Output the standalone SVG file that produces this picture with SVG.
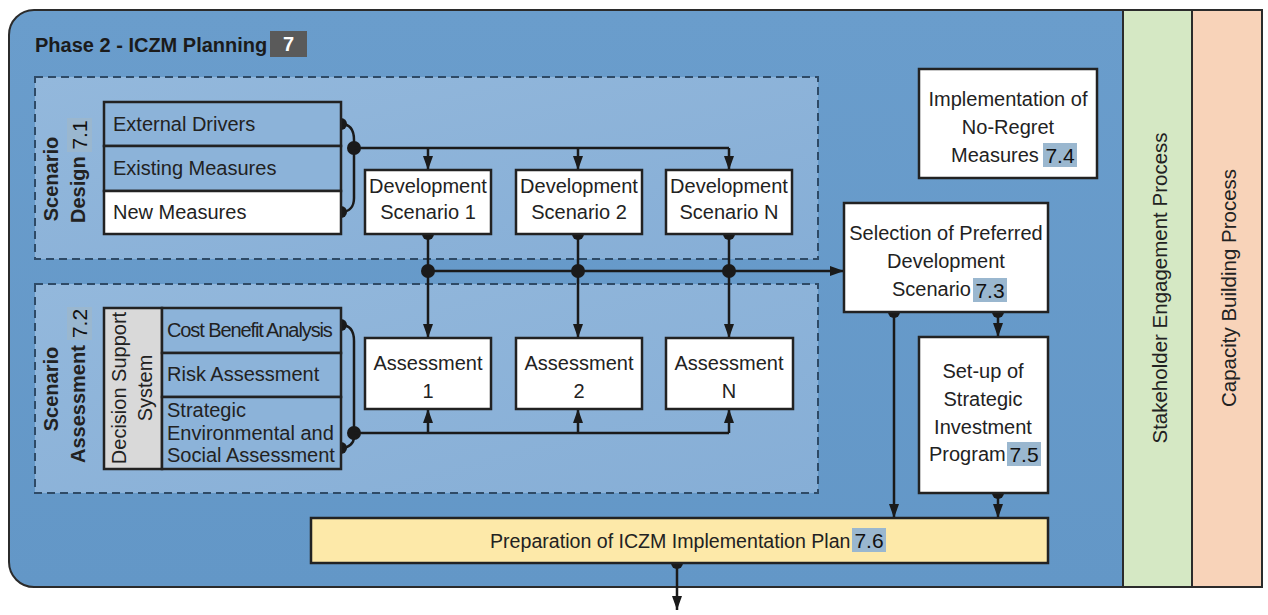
<svg xmlns="http://www.w3.org/2000/svg" width="1268" height="615" viewBox="0 0 1268 615">
  <defs>
    <linearGradient id="phaseFill" x1="0" y1="0" x2="0" y2="1">
      <stop offset="0" stop-color="#6a9dcc"/>
      <stop offset="1" stop-color="#6397c7"/>
    </linearGradient>
    <linearGradient id="zoneFill" x1="0" y1="0" x2="1" y2="1">
      <stop offset="0" stop-color="#93b8dc"/>
      <stop offset="1" stop-color="#86aed6"/>
    </linearGradient>
    <marker id="arrow" viewBox="0 0 14 10" refX="14" refY="5" markerWidth="14" markerHeight="10" markerUnits="userSpaceOnUse" orient="auto">
      <path d="M0,0 L14,5 L0,10 Z" fill="#1a1a1a"/>
    </marker>
    <style>
      .box { fill: #ffffff; stroke: #222222; stroke-width: 2.5; }
      .row { fill: #8cb3d9; stroke: #222222; stroke-width: 2.5; }
      .dss { fill: #d9d9d9; stroke: #222222; stroke-width: 2.5; }
      .zone { fill: url(#zoneFill); stroke: #2e4a66; stroke-width: 2; stroke-dasharray: 8 5; }
      .t { font-family: "Liberation Sans", Arial, sans-serif; font-size: 20px; fill: #222222; }
      .c { text-anchor: middle; }
      .b { font-weight: bold; font-size: 20px; }
      .tag { fill: #9ab7cf; }
      .num { font-family: "Liberation Sans", Arial, sans-serif; font-size: 21px; fill: #111111; text-anchor: middle; }
      .conn { stroke: #1a1a1a; stroke-width: 2.5; fill: none; }
      .dot { fill: #1a1a1a; }
    </style>
  </defs>

  <!-- phase frame and side process bands -->
  <g id="frame">
    <path d="M34,10 H1262 V587 H34 A25,25 0 0 1 9,562 V35 A25,25 0 0 1 34,10 Z" fill="url(#phaseFill)" stroke="#2b2b2b" stroke-width="2"/>
    <rect x="1123" y="10" width="69" height="577" fill="#d5e8c4" stroke="#2b2b2b" stroke-width="2"/>
    <rect x="1192" y="10" width="70" height="577" fill="#f8d3b9" stroke="#2b2b2b" stroke-width="2"/>
    <text class="t" x="35" y="52" style="font-weight:bold;fill:#1b1b1b">Phase 2 - ICZM Planning</text>
    <rect x="270" y="31" width="37" height="26" fill="#5a5a5a"/>
    <text class="t c" x="288.5" y="51" style="font-weight:bold;fill:#ffffff">7</text>
    <text class="t c" transform="translate(1167,288) rotate(-90)" style="font-size:20.5px">Stakeholder Engagement Process</text>
    <text class="t c" transform="translate(1236,288) rotate(-90)" style="font-size:20.5px">Capacity Building Process</text>
  </g>

  <!-- dashed zones -->
  <g id="zone-design">
    <rect class="zone" x="35" y="77" width="783" height="182"/>
    <text class="t c b" transform="translate(58,179) rotate(-90)">Scenario</text>
    <text class="t b" transform="translate(85,223) rotate(-90)">Design</text>
    <rect class="tag" x="67" y="118" width="25" height="34"/>
    <text class="num" transform="translate(87,135) rotate(-90)">7.1</text>
  </g>
  <g id="zone-assessment">
    <rect class="zone" x="35" y="284" width="783" height="209"/>
    <text class="t c b" transform="translate(58,389) rotate(-90)">Scenario</text>
    <text class="t b" transform="translate(85,463) rotate(-90)">Assessment</text>
    <rect class="tag" x="67" y="307" width="25" height="33"/>
    <text class="num" transform="translate(87,323.5) rotate(-90)">7.2</text>
  </g>

  <!-- connectors -->
  <g id="connectors">
    <!-- scenario design inputs to development scenarios -->
    <circle class="dot" cx="341" cy="124" r="6"/>
    <circle class="dot" cx="341" cy="212" r="6"/>
    <path class="conn" d="M341,124 C350,124 354,130 354,140 L354,198 C354,206 350,212 341,212"/>
    <circle class="dot" cx="354" cy="148" r="7"/>
    <path class="conn" d="M354,148 H729"/>
    <path class="conn" d="M428,148 V170" marker-end="url(#arrow)"/>
    <path class="conn" d="M578,148 V170" marker-end="url(#arrow)"/>
    <path class="conn" d="M729,148 V170" marker-end="url(#arrow)"/>

    <!-- development scenarios to assessments and selection -->
    <circle class="dot" cx="428" cy="234" r="6"/>
    <circle class="dot" cx="578" cy="234" r="6"/>
    <circle class="dot" cx="729" cy="234" r="6"/>
    <path class="conn" d="M428,234 V338" marker-end="url(#arrow)"/>
    <path class="conn" d="M578,234 V338" marker-end="url(#arrow)"/>
    <path class="conn" d="M729,234 V338" marker-end="url(#arrow)"/>
    <path class="conn" d="M428,271 H844" marker-end="url(#arrow)"/>
    <circle class="dot" cx="428" cy="271" r="7"/>
    <circle class="dot" cx="578" cy="271" r="7"/>
    <circle class="dot" cx="729" cy="271" r="7"/>

    <!-- decision support tools to assessments -->
    <circle class="dot" cx="341" cy="325" r="6"/>
    <circle class="dot" cx="341" cy="448" r="6"/>
    <path class="conn" d="M341,325 C350,325 354,331 354,341 L354,437 C354,443 349,448 341,448"/>
    <circle class="dot" cx="354" cy="433" r="7"/>
    <path class="conn" d="M354,433 H729"/>
    <path class="conn" d="M428,433 V409" marker-end="url(#arrow)"/>
    <path class="conn" d="M578,433 V409" marker-end="url(#arrow)"/>
    <path class="conn" d="M729,433 V409" marker-end="url(#arrow)"/>

    <!-- selection, investment program and implementation plan -->
    <circle class="dot" cx="894" cy="312" r="6"/>
    <circle class="dot" cx="998" cy="312" r="6"/>
    <path class="conn" d="M894,312 V518" marker-end="url(#arrow)"/>
    <path class="conn" d="M998,312 V337" marker-end="url(#arrow)"/>
    <circle class="dot" cx="998" cy="493" r="6"/>
    <path class="conn" d="M998,493 V518" marker-end="url(#arrow)"/>
    <circle class="dot" cx="677" cy="563" r="6"/>
    <path class="conn" d="M677,563 V610" marker-end="url(#arrow)"/>
  </g>

  <!-- nodes -->
  <g id="design-inputs">
    <rect class="row" x="104" y="102" width="237" height="44"/>
    <rect class="row" x="104" y="146" width="237" height="45"/>
    <rect class="box" x="104" y="191" width="237" height="43"/>
    <text class="t" x="113" y="131">External Drivers</text>
    <text class="t" x="113" y="175">Existing Measures</text>
    <text class="t" x="113" y="219">New Measures</text>
  </g>

  <g id="dev-scenario-1">
    <rect class="box" x="365" y="170" width="126" height="64"/>
    <text class="t c" x="428" y="193">Development</text>
    <text class="t c" x="428" y="219">Scenario 1</text>
  </g>
  <g id="dev-scenario-2">
    <rect class="box" x="516" y="170" width="126" height="64"/>
    <text class="t c" x="579" y="193">Development</text>
    <text class="t c" x="579" y="219">Scenario 2</text>
  </g>
  <g id="dev-scenario-n">
    <rect class="box" x="666" y="170" width="126" height="64"/>
    <text class="t c" x="729" y="193">Development</text>
    <text class="t c" x="729" y="219">Scenario N</text>
  </g>

  <g id="decision-support">
    <rect class="dss" x="104" y="308" width="58" height="161"/>
    <text class="t c" transform="translate(126,388) rotate(-90)">Decision Support</text>
    <text class="t c" transform="translate(152,388) rotate(-90)">System</text>
    <rect class="row" x="162" y="308" width="179" height="45"/>
    <rect class="row" x="162" y="353" width="179" height="44"/>
    <rect class="row" x="162" y="397" width="179" height="72"/>
    <text class="t" x="167" y="337" style="letter-spacing:-1.1px">Cost Benefit Analysis</text>
    <text class="t" x="167" y="381">Risk Assessment</text>
    <text class="t" x="167" y="417">Strategic</text>
    <text class="t" x="167" y="440">Environmental and</text>
    <text class="t" x="167" y="462">Social Assessment</text>
  </g>

  <g id="assessment-1">
    <rect class="box" x="365" y="338" width="126" height="71"/>
    <text class="t c" x="428" y="370">Assessment</text>
    <text class="t c" x="428" y="398">1</text>
  </g>
  <g id="assessment-2">
    <rect class="box" x="516" y="338" width="126" height="71"/>
    <text class="t c" x="579" y="370">Assessment</text>
    <text class="t c" x="579" y="398">2</text>
  </g>
  <g id="assessment-n">
    <rect class="box" x="666" y="338" width="127" height="71"/>
    <text class="t c" x="729" y="370">Assessment</text>
    <text class="t c" x="729" y="398">N</text>
  </g>

  <g id="no-regret">
    <rect class="box" x="919" y="69" width="178" height="109"/>
    <text class="t c" x="1008" y="106">Implementation of</text>
    <text class="t c" x="1008" y="134">No-Regret</text>
    <text class="t" x="951" y="162">Measures</text>
    <rect class="tag" x="1043" y="143" width="34" height="24"/>
    <text class="num" x="1060" y="163">7.4</text>
  </g>

  <g id="preferred-scenario">
    <rect class="box" x="844" y="203" width="204" height="109"/>
    <text class="t c" x="946" y="240">Selection of Preferred</text>
    <text class="t c" x="946" y="268">Development</text>
    <text class="t" x="892" y="296">Scenario</text>
    <rect class="tag" x="973" y="278" width="34" height="24"/>
    <text class="num" x="990" y="298">7.3</text>
  </g>

  <g id="investment-program">
    <rect class="box" x="919" y="337" width="129" height="156"/>
    <text class="t c" x="983" y="378">Set-up of</text>
    <text class="t c" x="983" y="406">Strategic</text>
    <text class="t c" x="983" y="434">Investment</text>
    <text class="t" x="929" y="461">Program</text>
    <rect class="tag" x="1007" y="442" width="34" height="24"/>
    <text class="num" x="1024" y="462">7.5</text>
  </g>

  <g id="implementation-plan">
    <rect x="311" y="518" width="737" height="45" fill="#fde9a9" stroke="#222222" stroke-width="2.5"/>
    <text class="t" x="490" y="548" style="font-size:19.6px">Preparation of ICZM Implementation Plan</text>
    <rect class="tag" x="852" y="528" width="34" height="24"/>
    <text class="num" x="869" y="548">7.6</text>
  </g>
</svg>
